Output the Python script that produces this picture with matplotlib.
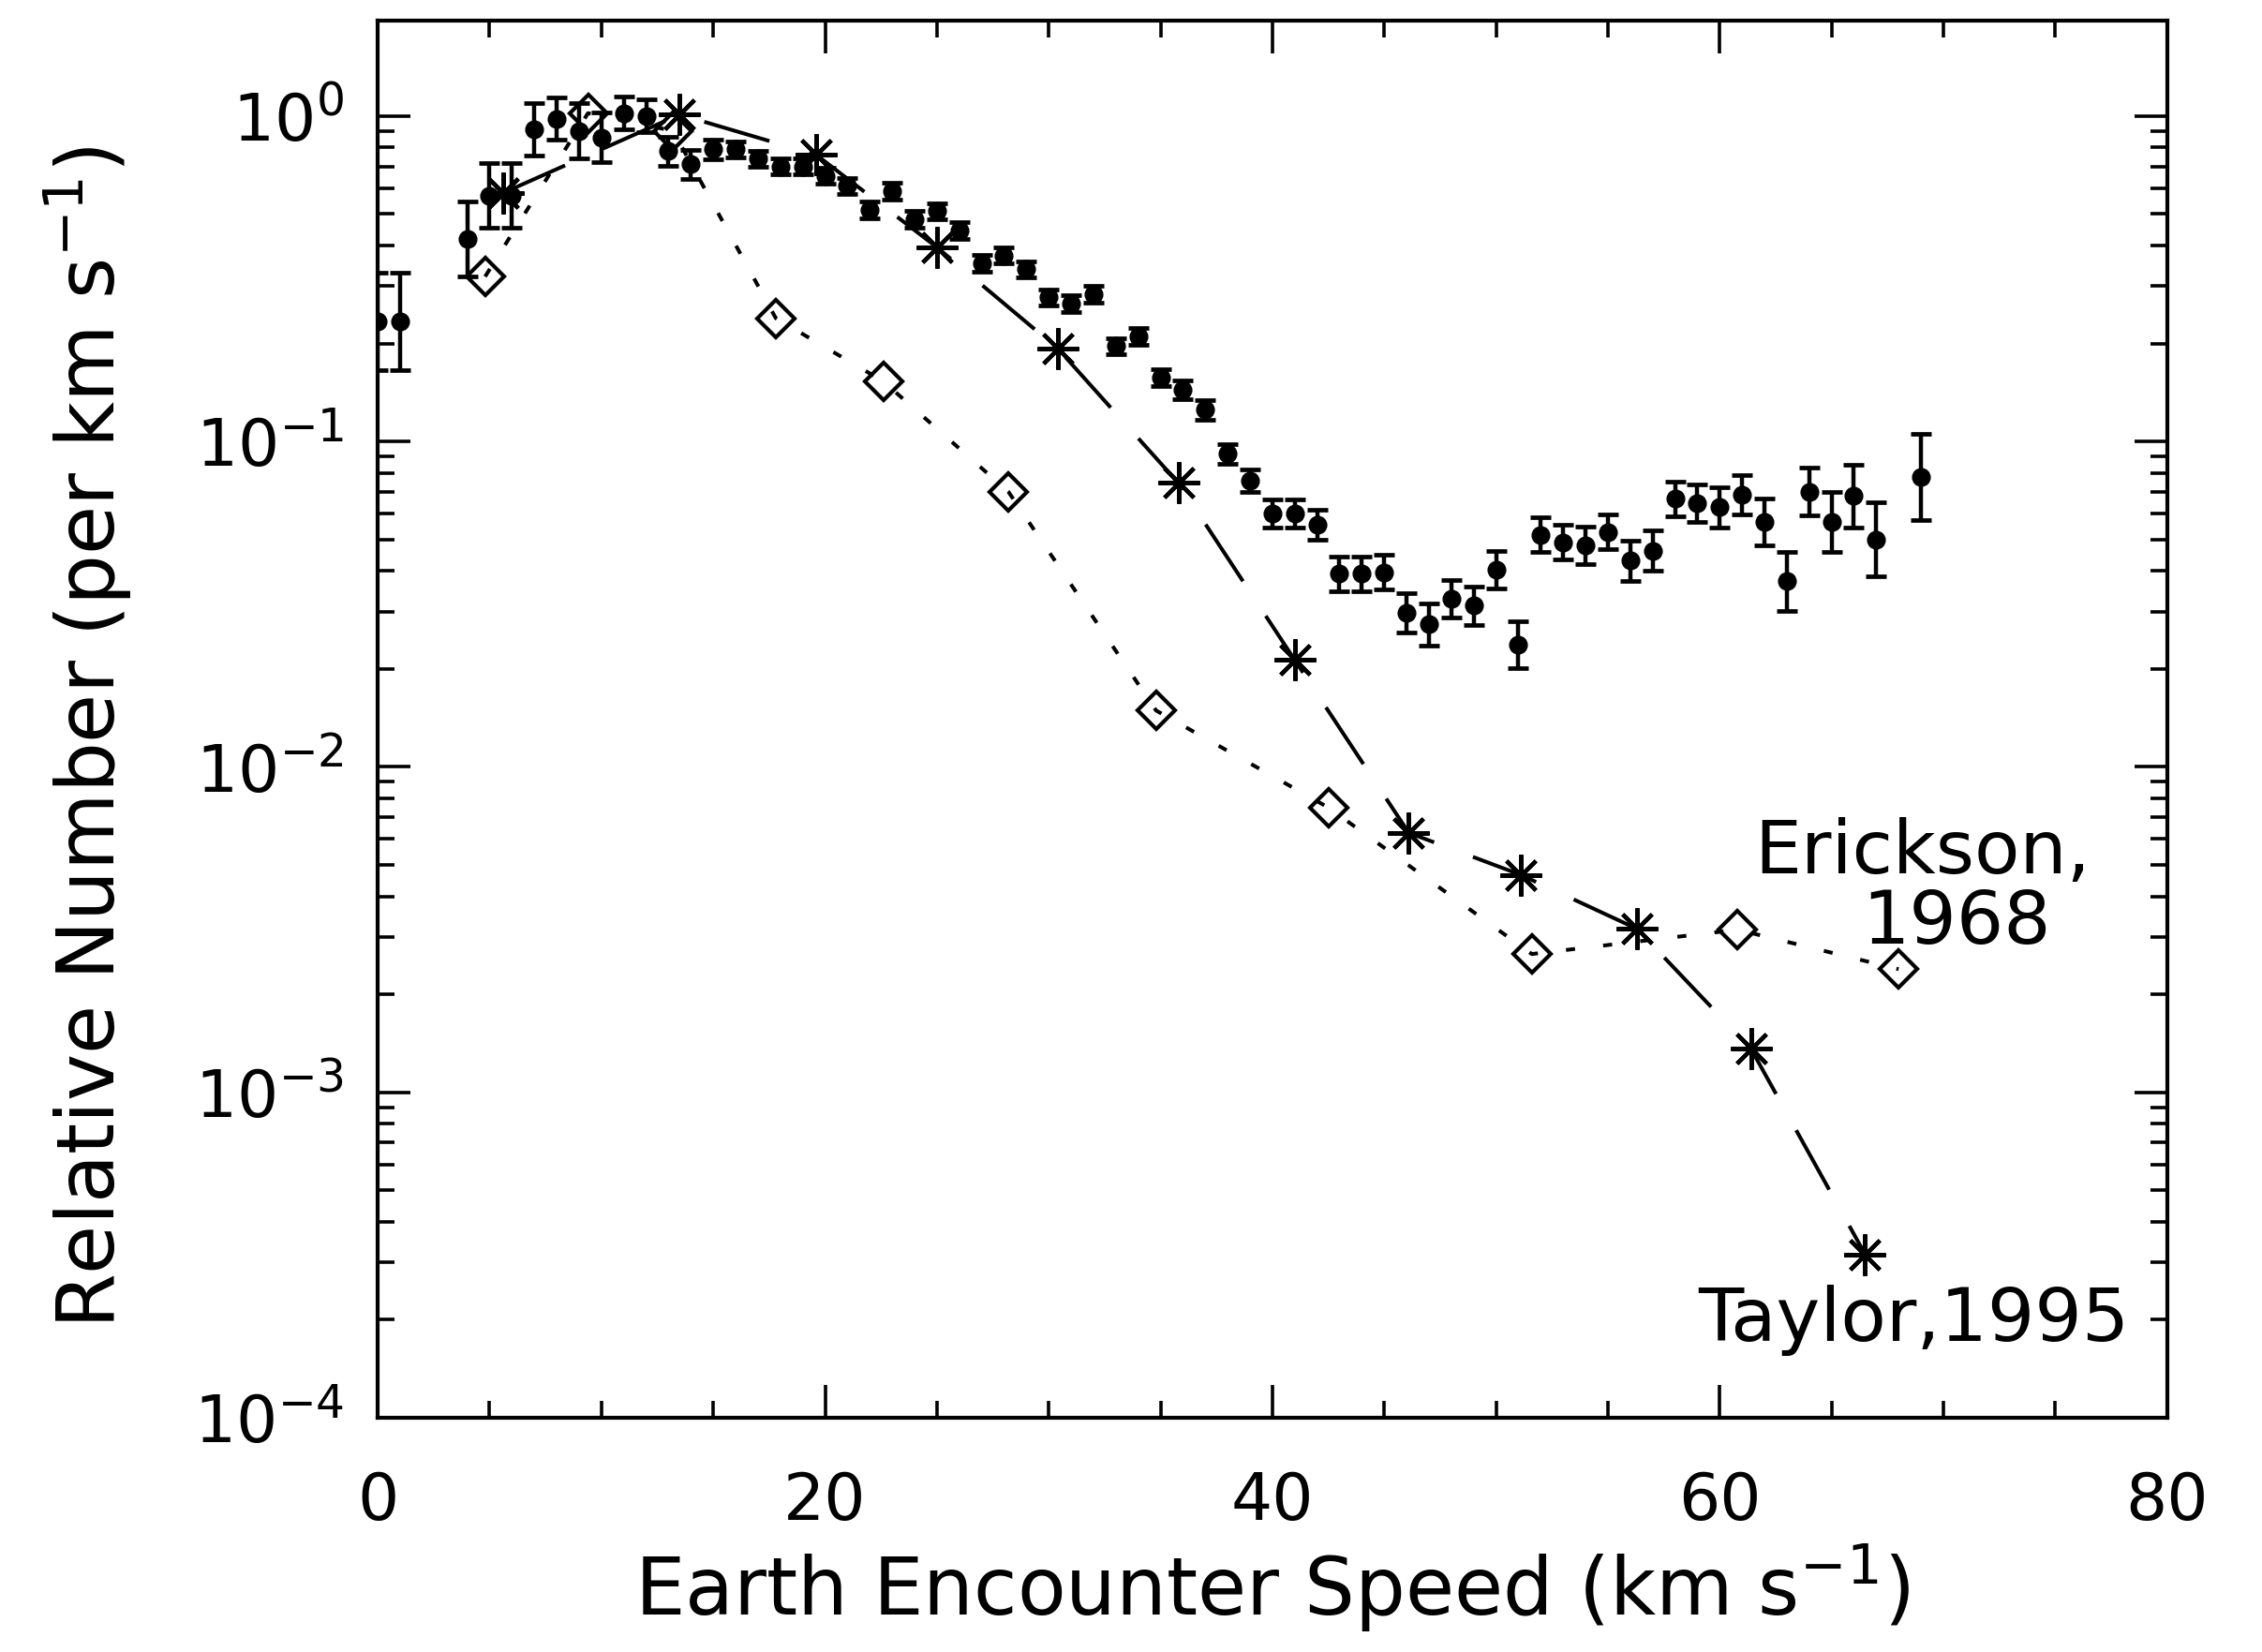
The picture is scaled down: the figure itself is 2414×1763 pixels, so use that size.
import numpy as np
import matplotlib
matplotlib.use("Agg")
import matplotlib.pyplot as plt
from matplotlib.ticker import MultipleLocator, LogLocator, LogFormatterMathtext, NullFormatter

# ---------------- data ----------------
# Measured distribution (filled circles with error bars)
meas_speed = [0, 1, 4, 5, 6, 7, 8, 9, 10, 11, 12, 13, 14, 15, 16, 17, 18, 19,
              20, 21, 22, 23, 24, 25, 26, 27, 28, 29, 30, 31, 32, 33, 34, 35,
              36, 37, 38, 39, 40, 41, 42, 43, 44, 45, 46, 47, 48, 49, 50, 51,
              52, 53, 54, 55, 56, 57, 58, 59, 60, 61, 62, 63, 64, 65, 66, 67, 69]
meas_value = [0.234, 0.234, 0.42, 0.57, 0.57, 0.91, 0.98, 0.90, 0.86, 1.02, 1.00,
              0.78, 0.71, 0.79, 0.79, 0.74, 0.70, 0.70, 0.655, 0.61, 0.515, 0.588,
              0.482, 0.51, 0.445, 0.353, 0.373, 0.338, 0.277, 0.265, 0.283, 0.1965,
              0.21, 0.157, 0.144, 0.125, 0.0915, 0.0759, 0.0602, 0.0602, 0.0555,
              0.0392, 0.0392, 0.0396, 0.0297, 0.0274, 0.0329, 0.0313, 0.0404,
              0.0237, 0.0516, 0.049, 0.048, 0.0527, 0.043, 0.0461, 0.0666, 0.0646,
              0.0627, 0.0687, 0.0566, 0.0372, 0.0701, 0.0566, 0.068, 0.050, 0.0777]
# error bar half-size in decades
meas_err_dex = [0.15, 0.15, 0.115, 0.10, 0.10, 0.08, 0.065, 0.085, 0.075, 0.05, 0.05,
                0.045, 0.045, 0.03, 0.025, 0.025, 0.025, 0.025, 0.025, 0.025, 0.025,
                0.025, 0.025, 0.025, 0.025, 0.025, 0.025, 0.025, 0.025, 0.025, 0.025,
                0.025, 0.025, 0.025, 0.03, 0.03, 0.03, 0.035, 0.043, 0.043, 0.045,
                0.053, 0.053, 0.053, 0.06, 0.065, 0.058, 0.059, 0.057, 0.072, 0.053,
                0.054, 0.057, 0.053, 0.062, 0.062, 0.053, 0.057, 0.062, 0.061, 0.072,
                0.091, 0.074, 0.092, 0.096, 0.113, 0.132]

# Erickson, 1968 (diamonds, dotted)
erickson_speed = [4.8, 9.4, 13.2, 17.8, 22.6, 28.2, 34.8, 42.5, 51.6, 60.8, 68.0]
erickson_value = [0.321, 1.02, 0.90, 0.239, 0.153, 0.070, 0.0149, 0.0075,
                  0.00266, 0.00316, 0.00239]

# Taylor, 1995 (asterisks, long dashes)
taylor_speed = [5.6, 13.5, 19.6, 25.0, 30.4, 35.8, 41.0, 46.1, 51.1, 56.3, 61.4, 66.5]
taylor_value = [0.58, 1.01, 0.76, 0.395, 0.193, 0.0745, 0.0213, 0.00627,
                0.00466, 0.00318, 0.00136, 0.000318]

x_ticks = [0, 20, 40, 60, 80]
x_label = "Earth Encounter Speed (km s$^{-1}$)"
y_label = "Relative Number (per km s$^{-1}$)"

# ---------------- plotting ----------------
plt.rcParams['font.family'] = ['DejaVu Sans']
plt.rcParams['mathtext.default'] = 'regular'
FS_TICK = 50
FS_LABEL = 61
FS_NOTE = 57

fig = plt.figure(figsize=(24.14, 17.63), dpi=100)
ax = fig.add_axes([0.167, 0.1418, 0.791, 0.8457])

mv = np.array(meas_value)
md = np.array(meas_err_dex)
lo = mv * (1 - 10 ** (-md))
hi = mv * (10 ** md - 1)
ax.errorbar(meas_speed, mv, yerr=[lo, hi], fmt='o', color='k', ms=13.5,
            capsize=8, elinewidth=3.2, capthick=3.4, zorder=3)

ax.plot(erickson_speed, erickson_value, color='k', lw=2.9, dashes=(2.4, 7.5),
        marker='D', ms=20, mfc='none', mec='k', mew=3.0, zorder=2)

ax.plot(taylor_speed, taylor_value, color='k', lw=2.9, dashes=(18, 11),
        marker=(8, 2, 0), ms=32, mec='k', mew=3.0, zorder=2)

ax.set_yscale('log')
ax.set_xlim(0, 80)
ax.set_ylim(1e-4, 1.963)

ax.xaxis.set_major_locator(MultipleLocator(20))
ax.xaxis.set_minor_locator(MultipleLocator(5))
ax.set_xticks(x_ticks)
ax.yaxis.set_major_locator(LogLocator(base=10, numticks=10))
ax.yaxis.set_minor_locator(LogLocator(base=10, subs=np.arange(2, 10), numticks=20))
ax.yaxis.set_major_formatter(LogFormatterMathtext())
ax.yaxis.set_minor_formatter(NullFormatter())

ax.tick_params(which='both', direction='in', top=True, right=True, width=2.6, color='k')
ax.tick_params(which='major', length=25)
ax.tick_params(which='minor', length=13)
ax.tick_params(axis='x', which='major', pad=40, labelsize=FS_TICK)
ax.tick_params(axis='y', which='major', pad=26, labelsize=FS_TICK)

for s in ax.spines.values():
    s.set_linewidth(3.0)

ax.set_xlabel(x_label, fontsize=FS_LABEL, labelpad=6)
ax.set_ylabel(y_label, fontsize=FS_LABEL)
ax.yaxis.set_label_coords(-0.137, 0.487)

ax.text(76.6, 0.0047, "Erickson,", fontsize=FS_NOTE, ha='right', va='baseline')
ax.text(70.6, 0.00286, "1968", fontsize=FS_NOTE, ha='center', va='baseline')
ax.text(78.3, 0.000172, "Taylor,1995", fontsize=FS_NOTE, ha='right', va='baseline')

fig.savefig("out.png", dpi=100)
